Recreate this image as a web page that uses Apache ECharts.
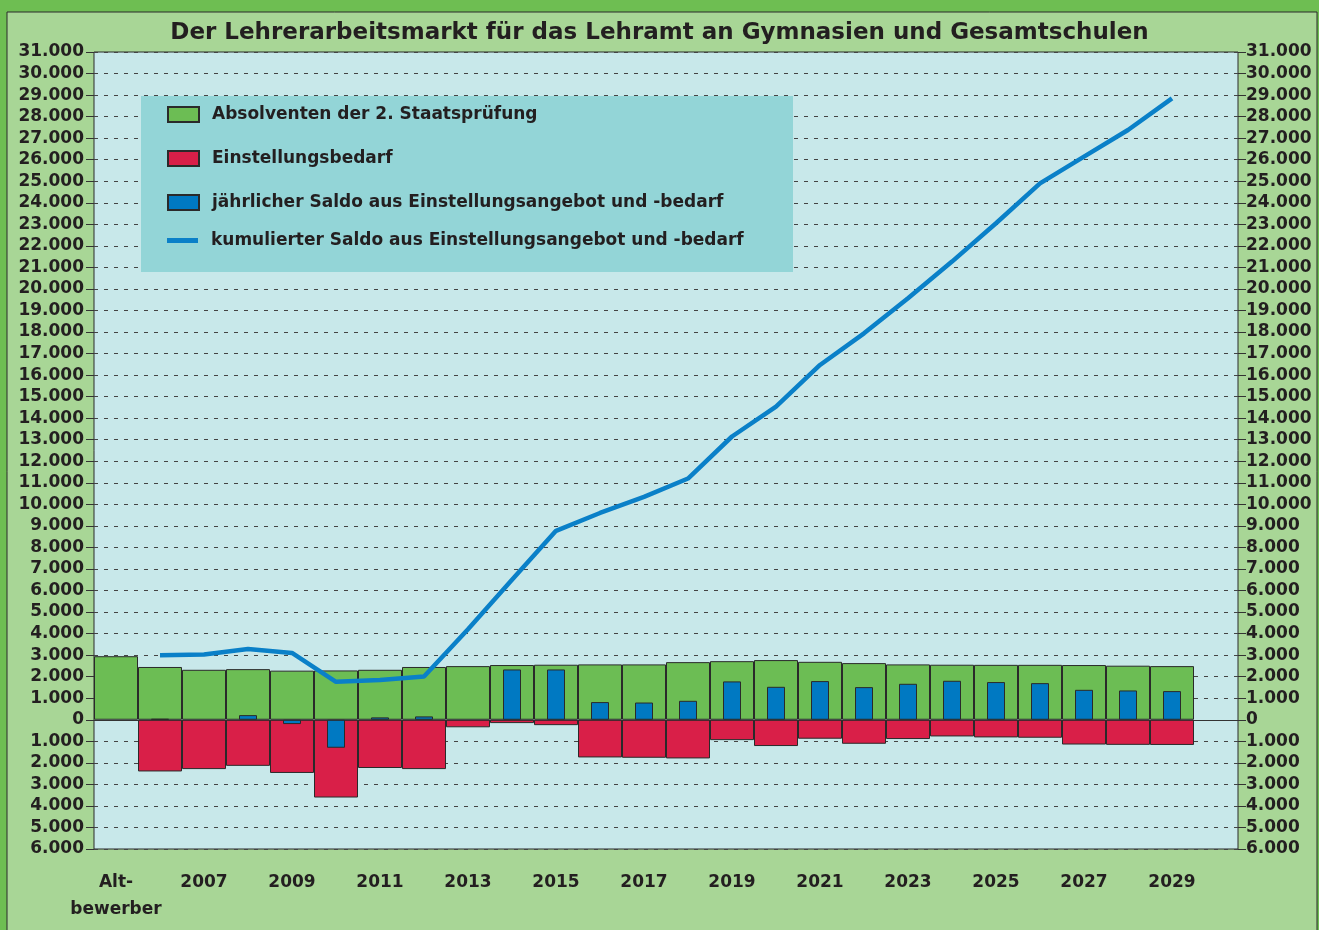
<!DOCTYPE html>
<html>
<head>
<meta charset="utf-8">
<title>Lehrerarbeitsmarkt</title>
<script src="https://cdn.jsdelivr.net/npm/echarts@6/dist/echarts.min.js"></script>
<style>
    html, body { margin: 0; padding: 0; }
    #chartContainer { width: 1319px; height: 930px; }
</style>
</head>
<body>
<div id="chartContainer"></div>
<script>
'use strict';
// Kategorien: Altbewerber, dann Jahrgänge 2006 bis 2030 (2030 ohne Werte)
let categories = ['Alt-\nbewerber', '2006', '2007', '2008', '2009', '2010', '2011', '2012', '2013',
    '2014', '2015', '2016', '2017', '2018', '2019', '2020', '2021', '2022', '2023', '2024',
    '2025', '2026', '2027', '2028', '2029', '2030'];

let absolventen = [2950, 2450, 2320, 2350, 2280, 2290, 2320, 2450, 2490, 2540, 2555, 2570, 2570,
    2675, 2720, 2770, 2690, 2630, 2570, 2555, 2550, 2550, 2540, 2510, 2490, null];

let bedarf = [null, -2400, -2290, -2140, -2470, -3610, -2240, -2290, -350, -155, -250, -1750, -1765,
    -1795, -945, -1220, -880, -1115, -895, -775, -820, -835, -1150, -1165, -1170, null];

let saldo = [null, 40, null, 215, -200, -1300, 110, 155, null, 2335, 2335, 820, 800,
    880, 1780, 1530, 1795, 1515, 1670, 1810, 1750, 1700, 1390, 1360, 1330, null];

let kumuliert = [null, 3000, 3030, 3280, 3100, 1760, 1850, 2010, 4200, 6500, 8770, 9600, 10350,
    11200, 13150, 14540, 16470, 17940, 19570, 21270, 23050, 24900, 26140, 27380, 28850, null];

let seriesNames = [
    'Absolventen der 2. Staatsprüfung',
    'Einstellungsbedarf',
    'jährlicher Saldo aus Einstellungsangebot und -bedarf',
    'kumulierter Saldo aus Einstellungsangebot und -bedarf'
];

let initChart = (function() {
    let chartContainer = document.getElementById('chartContainer');
    let demoChart = echarts.init(chartContainer);

    let fontFamily = ['DejaVu Sans', 'Verdana', 'sans-serif'];
    let textColor = '#231f20';

    let yLabel = function(v) {
        if (v === 0) return '0';
        return (Math.abs(v) / 1000) + '.000';
    };

    let yAxisCommon = {
        type: 'value',
        min: -6000,
        max: 31000,
        interval: 1000,
        axisLine: { show: false },
        axisTick: {
            show: true,
            length: 8,
            lineStyle: { color: '#333', width: 1 }
        },
        axisLabel: {
            margin: 10,
            formatter: yLabel,
            color: textColor,
            fontFamily: fontFamily,
            fontWeight: 'bold',
            fontSize: 17
        }
    };

    let legendText = {
        fontFamily: fontFamily,
        fontWeight: 'bold',
        fontSize: 17,
        color: textColor,
        padding: [0, 0, 0, 8]
    };

    let option = {
        backgroundColor: '#6ebe52',
        title: {
            text: 'Der Lehrerarbeitsmarkt für das Lehramt an Gymnasien und Gesamtschulen',
            left: 'center',
            top: 17,
            textStyle: {
                fontFamily: fontFamily,
                fontWeight: 'bold',
                fontSize: 23,
                color: textColor
            }
        },
        graphic: [{
            type: 'rect',
            shape: { x: 7, y: 12, width: 1310, height: 920 },
            style: { fill: '#a8d696', stroke: '#2a2a2a', lineWidth: 1 },
            z: -10,
            silent: true
        }, {
            type: 'rect',
            shape: { x: 141, y: 96, width: 652, height: 176 },
            style: { fill: '#93d5d7' },
            z: 1,
            silent: true
        }],
        legend: [{
            data: seriesNames.slice(0, 3),
            icon: 'rect',
            orient: 'vertical',
            left: 162,
            top: 101,
            itemWidth: 31,
            itemHeight: 15,
            itemGap: 27,
            textStyle: legendText
        }, {
            data: [seriesNames[3]],
            icon: 'rect',
            orient: 'vertical',
            left: 162,
            top: 227,
            itemWidth: 31,
            itemHeight: 5,
            itemStyle: { borderWidth: 0 },
            textStyle: legendText
        }],
        grid: {
            left: 94,
            top: 52,
            right: 81,
            bottom: 81,
            show: true,
            backgroundColor: '#c8e8ea',
            borderColor: '#2a2a2a',
            borderWidth: 1
        },
        xAxis: [{
            type: 'category',
            data: categories,
            position: 'bottom',
            axisLine: { show: false, onZero: false },
            axisTick: { show: false },
            axisLabel: {
                interval: function(i) { return i % 2 === 0 && i < 25; },
                margin: 20,
                lineHeight: 27,
                color: textColor,
                fontFamily: fontFamily,
                fontWeight: 'bold',
                fontSize: 17
            }
        }, {
            type: 'category',
            data: categories,
            position: 'bottom',
            axisLine: {
                show: true,
                onZero: true,
                lineStyle: { color: '#333', width: 1 }
            },
            axisTick: { show: false },
            axisLabel: { show: false }
        }],
        yAxis: [Object.assign({}, yAxisCommon, {
            position: 'left',
            splitLine: {
                lineStyle: {
                    color: '#444',
                    width: 1,
                    type: [4, 6]
                }
            }
        }), Object.assign({}, yAxisCommon, {
            position: 'right',
            splitLine: { show: false },
            axisLabel: Object.assign({}, yAxisCommon.axisLabel, { margin: 8 })
        })],
        series: [{
            name: seriesNames[0],
            type: 'bar',
            stack: 'summe',
            data: absolventen,
            barCategoryGap: '0%',
            itemStyle: {
                color: '#6cbd54',
                borderColor: '#2a2a2a',
                borderWidth: 1
            }
        }, {
            name: seriesNames[1],
            type: 'bar',
            stack: 'summe',
            data: bedarf,
            barCategoryGap: '0%',
            itemStyle: {
                color: '#d91f48',
                borderColor: '#2a2a2a',
                borderWidth: 1
            }
        }, {
            name: seriesNames[2],
            type: 'bar',
            xAxisIndex: 1,
            data: saldo,
            barWidth: 18,
            z: 3,
            itemStyle: {
                color: '#0079c2',
                borderColor: '#2a2a2a',
                borderWidth: 1
            }
        }, {
            name: seriesNames[3],
            type: 'line',
            data: kumuliert,
            symbol: 'none',
            z: 4,
            lineStyle: {
                color: '#0a80c8',
                width: 4.5
            },
            itemStyle: {
                color: '#0a80c8'
            }
        }]
    };

    demoChart.setOption(option);
})();
</script>
</body>
</html>
